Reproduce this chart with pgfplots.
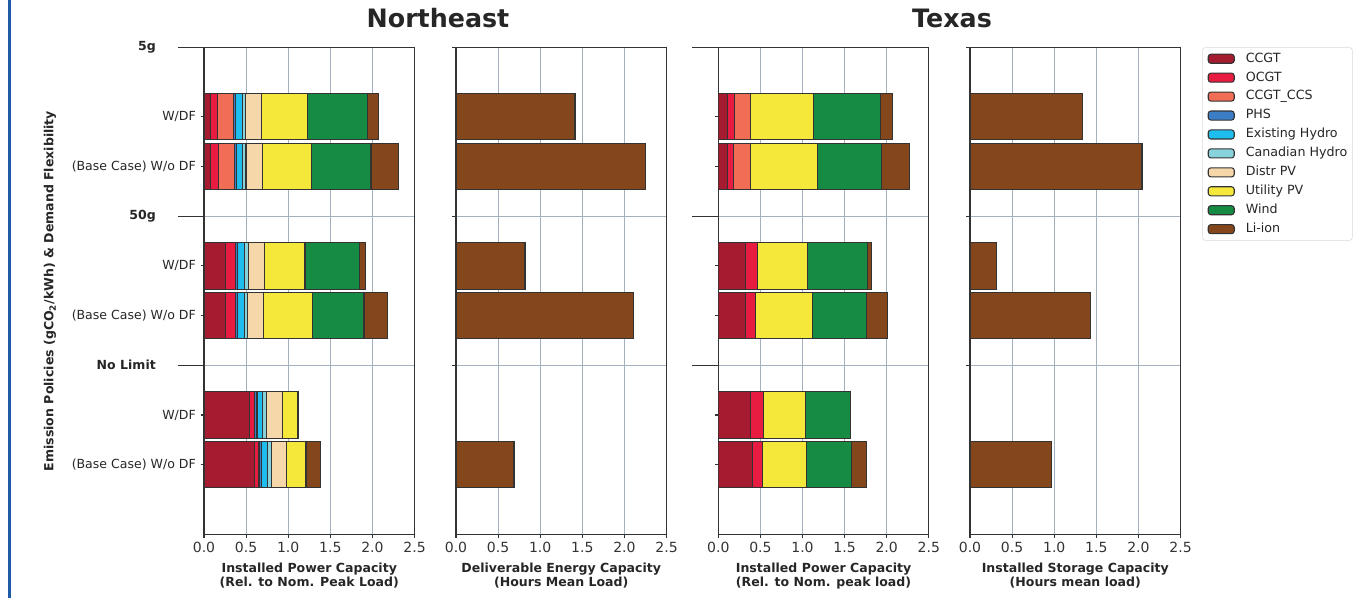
\documentclass[border=0pt]{standalone}
\usepackage{pgfplots}
\pgfplotsset{compat=1.18}
\usepackage{pgfplotstable}
\usepackage{fontspec}
\setmainfont{DejaVu Sans}

\definecolor{ccgt}{HTML}{A51C30}
\definecolor{ocgt}{HTML}{E81B40}
\definecolor{ccs}{HTML}{F26D55}
\definecolor{phs}{HTML}{3B7EC6}
\definecolor{exh}{HTML}{1FBDED}
\definecolor{can}{HTML}{87D2DB}
\definecolor{distr}{HTML}{F5D7AA}
\definecolor{util}{HTML}{F6E83A}
\definecolor{wind}{HTML}{168B44}
\definecolor{li}{HTML}{84471C}
\definecolor{gridc}{HTML}{A4B1BF}
\definecolor{blueline}{HTML}{1F5AA6}

\pgfplotstableread{
y CCGT OCGT CCS PHS ExH Can Distr Util Wind Li
0 0.075 0.087 0.186 0.028 0.079 0.040 0.190 0.546 0.712 0.127
-1 0.075 0.095 0.190 0.028 0.071 0.040 0.194 0.589 0.701 0.324
-3 0.253 0.119 0 0.028 0.086 0.040 0.190 0.483 0.645 0.079
-4 0.253 0.119 0 0.028 0.079 0.039 0.190 0.578 0.614 0.281
-6 0.542 0.056 0 0.031 0.067 0.044 0.190 0.182 0.005 0
-7 0.598 0.055 0 0.031 0.072 0.047 0.178 0.230 0 0.174
}\nepower

\pgfplotstableread{
y CCGT OCGT CCS Util Wind Li
0 0.107 0.087 0.194 0.744 0.795 0.143
-1 0.107 0.079 0.202 0.791 0.760 0.328
-3 0.328 0.135 0 0.601 0.709 0.051
-4 0.328 0.115 0 0.681 0.641 0.241
-6 0.388 0.150 0 0.499 0.538 0
-7 0.404 0.122 0 0.527 0.534 0.170
}\txpower

\pgfplotstableread{
y v
0 1.413
-1 2.255
-3 0.819
-4 2.113
-7 0.689
}\neenergy

\pgfplotstableread{
y v
0 1.341
-1 2.042
-3 0.309
-4 1.436
-7 0.973
}\txstorage

\pgfplotsset{
  panel/.style={
    scale only axis, width=157.9pt, height=365.25pt,
    xmin=0, xmax=2.5, ymin=-8.4, ymax=1.4,
    axis line style={draw=black!80, line width=0.8pt},
    xtick={0,0.5,1,1.5,2,2.5},
    xtick pos=left, ytick pos=left,
    tick align=outside,
    major tick length=2.6pt,
    minor tick length=0pt,
    tick style={draw=black!80, line width=0.8pt},
    xmajorgrids, ymajorgrids,
    major grid style={draw=gridc, line width=0.8pt},
    ytick={-5,-2,1.4},
    yticklabels={},
    xticklabel style={font=\fontsize{10.5}{12}\selectfont, text=black!80,
      /pgf/number format/fixed, /pgf/number format/fixed zerofill,
      /pgf/number format/precision=1, /pgf/number format/assume math mode=true},
    yticklabel style={font=\fontsize{9.4}{11}\selectfont, text=black!85},
    xlabel style={font=\bfseries\fontsize{9.4}{10.5}\selectfont, text=black!85,
      align=center, at={(axis description cs:0.5,-0.058)}, anchor=north, inner sep=0pt},
    every axis plot/.append style={draw=black!80, line width=0.8pt},
    bar width=0.93,
  },
}
\newcommand\frametop{\draw[black!80, line width=0.8pt] (rel axis cs:0,1) -- (rel axis cs:1,1) -- (rel axis cs:1,0);}

\begin{document}
\begin{tikzpicture}
\path[use as bounding box] (0,0) rectangle (1018.5pt,-450pt);
\draw[draw=blueline, line width=2pt] (7.1pt,0pt) -- (7.1pt,-448.5pt);

% Panel 1: Northeast power
\begin{axis}[panel, at={(153pt,-400.7pt)}, anchor=south west, xbar stacked,
  yticklabels={\textbf{No Limit},\textbf{50g},\textbf{5g}},
  ytick style={/pgfplots/major tick length=19.5pt},
  yticklabel style={xshift=-30pt},
  extra y ticks={-7,-6,-4,-3,-1,0},
  extra y tick labels={(Base Case) W/o DF,W/DF,(Base Case) W/o DF,W/DF,(Base Case) W/o DF,W/DF},
  extra y tick style={grid=none, ytick style={/pgfplots/major tick length=2.6pt}, yticklabel style={xshift=30pt}},
  xlabel={Installed Power Capacity\\(Rel. to Nom. Peak Load)}]
\addplot[fill=ccgt] table[x=CCGT,y=y]{\nepower};
\addplot[fill=ocgt] table[x=OCGT,y=y]{\nepower};
\addplot[fill=ccs] table[x=CCS,y=y]{\nepower};
\addplot[fill=phs] table[x=PHS,y=y]{\nepower};
\addplot[fill=exh] table[x=ExH,y=y]{\nepower};
\addplot[fill=can] table[x=Can,y=y]{\nepower};
\addplot[fill=distr] table[x=Distr,y=y]{\nepower};
\addplot[fill=util] table[x=Util,y=y]{\nepower};
\addplot[fill=wind] table[x=Wind,y=y]{\nepower};
\addplot[fill=li] table[x=Li,y=y]{\nepower};
\frametop
\end{axis}

% Panel 2: Northeast energy
\begin{axis}[panel, at={(342pt,-400.7pt)}, anchor=south west, xbar, bar shift=0pt,
  ytick style={/pgfplots/major tick length=3pt},
  xlabel={Deliverable Energy Capacity\\(Hours Mean Load)}]
\addplot[fill=li, bar shift=0pt] table[x=v,y=y]{\neenergy};
\frametop
\end{axis}

% Panel 3: Texas power
\begin{axis}[panel, at={(538.7pt,-400.7pt)}, anchor=south west, xbar stacked,
  ytick style={/pgfplots/major tick length=19.5pt},
  extra y ticks={-7,-6,-4,-3,-1,0},
  extra y tick labels={},
  extra y tick style={grid=none, ytick style={/pgfplots/major tick length=2.6pt}},
  xlabel={Installed Power Capacity\\(Rel. to Nom. peak load)}]
\addplot[fill=ccgt] table[x=CCGT,y=y]{\txpower};
\addplot[fill=ocgt] table[x=OCGT,y=y]{\txpower};
\addplot[fill=ccs] table[x=CCS,y=y]{\txpower};
\addplot[fill=util] table[x=Util,y=y]{\txpower};
\addplot[fill=wind] table[x=Wind,y=y]{\txpower};
\addplot[fill=li] table[x=Li,y=y]{\txpower};
\frametop
\end{axis}

% Panel 4: Texas storage
\begin{axis}[panel, at={(727.5pt,-400.7pt)}, anchor=south west, xbar, bar shift=0pt,
  ytick style={/pgfplots/major tick length=3pt},
  xlabel={Installed Storage Capacity\\(Hours mean load)},
  legend cell align=left,
  legend image code/.code={\draw[#1, line width=0.8pt] (0pt,-3.4pt) rectangle (19.5pt,3.4pt);},
  legend style={at={(axis description cs:1.104,1)}, anchor=north west,
    draw=black!15, rounded corners=2pt, fill=white,
    inner xsep=3.75pt, inner ysep=3.9pt, row sep=5.2pt,
    font=\fontsize{9.5}{11}\selectfont, text=black!85,
    nodes={inner sep=0pt, text height=7pt, text depth=2pt},
    /tikz/every odd column/.append style={column sep=8.25pt}}]
\addlegendimage{fill=ccgt, draw=black!80}
\addlegendimage{fill=ocgt, draw=black!80}
\addlegendimage{fill=ccs, draw=black!80}
\addlegendimage{fill=phs, draw=black!80}
\addlegendimage{fill=exh, draw=black!80}
\addlegendimage{fill=can, draw=black!80}
\addlegendimage{fill=distr, draw=black!80}
\addlegendimage{fill=util, draw=black!80}
\addlegendimage{fill=wind, draw=black!80}
\addlegendimage{fill=li, draw=black!80}
\addplot[fill=li, forget plot, bar shift=0pt] table[x=v,y=y]{\txstorage};
\legend{CCGT,OCGT,CCGT\_CCS,PHS,Existing Hydro,Canadian Hydro,Distr PV,Utility PV,Wind,Li-ion}
\frametop
\end{axis}

\node[font=\bfseries\fontsize{19}{22}\selectfont, text=black!85, anchor=base] at (328.5pt,-20.25pt) {Northeast};
\node[font=\bfseries\fontsize{19}{22}\selectfont, text=black!85, anchor=base] at (714pt,-20.25pt) {Texas};
\node[rotate=90, font=\bfseries\fontsize{9.4}{11}\selectfont, text=black!85] at (37.5pt,-218.25pt) {Emission Policies (gCO\textsubscript{2}/kWh) \& Demand Flexibility};
\end{tikzpicture}
\end{document}
